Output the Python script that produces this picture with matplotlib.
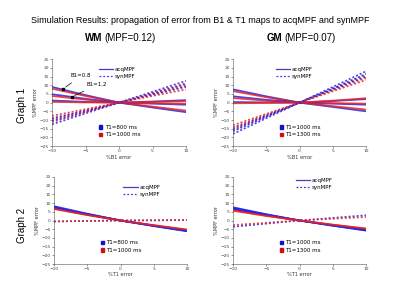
import numpy as np
import matplotlib
matplotlib.use("Agg")
import matplotlib.pyplot as plt
from matplotlib.lines import Line2D
from matplotlib.patches import Patch

x_pts = [-10, -5, 0, 5, 10]

# Graph 1, WM: %B1 error -> %MPF error
wm1_acq_blue = [[9.0, 4.3, 0, -2.8, -5.5], [4.8, 2.2, 0, -0.6, -1.2], [1.2, 0.4, 0, 0.6, 1.4]]
wm1_acq_red = [[8.0, 3.8, 0, -2.3, -4.6], [3.8, 1.7, 0, -0.3, -0.6], [0.4, 0.1, 0, 0.4, 0.9]]
wm1_syn_blue = [[-12.5, -6.2, 0, 6.2, 12.5], [-10.5, -5.2, 0, 5.2, 10.5], [-9.0, -4.5, 0, 4.5, 9.0]]
wm1_syn_red = [[-11.2, -5.6, 0, 5.6, 11.2], [-9.6, -4.8, 0, 4.8, 9.6], [-7.6, -3.8, 0, 3.8, 7.6]]

# Graph 1, GM
gm1_acq_blue = [[7.6, 3.6, 0, -2.5, -5.0], [3.6, 1.6, 0, -0.6, -1.2], [0.3, 0.1, 0, 0.9, 2.0]]
gm1_acq_red = [[6.6, 3.1, 0, -2.0, -4.0], [2.6, 1.1, 0, -0.3, -0.6], [-0.4, -0.2, 0, 1.1, 2.5]]
gm1_syn_blue = [[-18.0, -9.0, 0, 9.0, 18.0], [-16.5, -8.2, 0, 8.2, 16.5], [-15.0, -7.5, 0, 7.5, 15.0]]
gm1_syn_red = [[-15.8, -7.9, 0, 7.9, 15.8], [-14.2, -7.1, 0, 7.1, 14.2], [-13.0, -6.5, 0, 6.5, 13.0]]

# Graph 2, WM: %T1 error -> %MPF error
wm2_acq_blue = [[8.2, 3.9, 0, -3.2, -6.2], [7.8, 3.7, 0, -3.1, -6.0], [7.4, 3.5, 0, -3.0, -5.8]]
wm2_acq_red = [[7.2, 3.4, 0, -2.9, -5.6], [6.9, 3.3, 0, -2.8, -5.4], [6.6, 3.1, 0, -2.7, -5.2]]
wm2_syn_blue = [[-0.6, -0.3, 0, 0.1, 0.2]]
wm2_syn_red = [[-0.5, -0.2, 0, 0.1, 0.2]]

# Graph 2, GM
gm2_acq_blue = [[7.6, 3.6, 0, -3.0, -5.8], [7.2, 3.4, 0, -2.9, -5.6], [6.8, 3.2, 0, -2.8, -5.4]]
gm2_acq_red = [[6.4, 3.0, 0, -2.6, -5.0], [6.0, 2.8, 0, -2.5, -4.8], [5.6, 2.6, 0, -2.4, -4.6]]
gm2_syn_blue = [[-3.6, -1.8, 0, 1.5, 3.0]]
gm2_syn_red = [[-2.6, -1.3, 0, 1.0, 2.0]]

BLUE = "#2424e8"
RED = "#e82424"
FS_TICK = 3.2
FS_LAB = 3.6
FS_LEG = 4.0


def draw(ax, acq_b, acq_r, syn_b, syn_r, xlabel):
    for yb, yr in zip(acq_b, acq_r):
        ax.plot(x_pts, yb, color=BLUE, lw=1.3, alpha=0.85)
        ax.plot(x_pts, yr, color=RED, lw=1.3, alpha=0.85)
    for yb, yr in zip(syn_b, syn_r):
        ax.plot(x_pts, yb, color=BLUE, lw=1.2, ls=(0, (1.2, 1.2)), alpha=0.85)
        ax.plot(x_pts, yr, color=RED, lw=1.2, ls=(0, (1.2, 1.2)), alpha=0.85)
    ax.set_xlim(-10, 10)
    ax.set_ylim(-25, 25)
    ax.set_xticks([-10, -5, 0, 5, 10])
    ax.set_yticks(np.arange(-25, 26, 5))
    ax.tick_params(labelsize=FS_TICK, length=1.2, width=0.4, pad=1, colors="#444444")
    for s in ["top", "right"]:
        ax.spines[s].set_visible(False)
    for s in ["left", "bottom"]:
        ax.spines[s].set_linewidth(0.4)
        ax.spines[s].set_color("#555555")
    ax.set_xlabel(xlabel, fontsize=FS_LAB, labelpad=1, color="#333333")
    ax.set_ylabel("%MPF error", fontsize=FS_LAB, labelpad=1, color="#333333")


def legends(ax, t1_labels, loc1, loc2):
    h1 = [Line2D([], [], color="#4a3ad0", lw=0.9),
          Line2D([], [], color="#4a3ad0", lw=0.9, ls=(0, (1.5, 1.5)))]
    l1 = ax.legend(h1, ["acqMPF", "synMPF"], fontsize=FS_LEG, frameon=False,
                   loc="center left", bbox_to_anchor=loc1, handlelength=2.6,
                   handletextpad=0.3, labelspacing=0.4, borderpad=0)
    ax.add_artist(l1)
    h2 = [Patch(color="#1010d0"), Patch(color="#d01010")]
    ax.legend(h2, t1_labels, fontsize=FS_LEG, frameon=False,
              loc="center left", bbox_to_anchor=loc2, handlelength=0.6,
              handleheight=0.6, handletextpad=0.4, labelspacing=0.4, borderpad=0)


fig = plt.figure(figsize=(4, 3), dpi=100)
ax1 = fig.add_axes([0.13, 0.513, 0.335, 0.29])
ax2 = fig.add_axes([0.5825, 0.513, 0.3325, 0.29])
ax3 = fig.add_axes([0.135, 0.12, 0.3325, 0.29])
ax4 = fig.add_axes([0.5825, 0.12, 0.3325, 0.29])

draw(ax1, wm1_acq_blue, wm1_acq_red, wm1_syn_blue, wm1_syn_red, "%B1 error")
draw(ax2, gm1_acq_blue, gm1_acq_red, gm1_syn_blue, gm1_syn_red, "%B1 error")
draw(ax3, wm2_acq_blue, wm2_acq_red, wm2_syn_blue, wm2_syn_red, "%T1 error")
draw(ax4, gm2_acq_blue, gm2_acq_red, gm2_syn_blue, gm2_syn_red, "%T1 error")

legends(ax1, ["T1=800 ms", "T1=1000 ms"], (0.33, 0.84), (0.33, 0.17))
legends(ax2, ["T1=1000 ms", "T1=1300 ms"], (0.30, 0.84), (0.33, 0.17))
legends(ax3, ["T1=800 ms", "T1=1000 ms"], (0.50, 0.84), (0.33, 0.2))
legends(ax4, ["T1=1000 ms", "T1=1300 ms"], (0.45, 0.92), (0.33, 0.2))

ax1.annotate("B1=0.8", xy=(-8.3, 8.0), xytext=(-7.2, 14.5), fontsize=FS_LEG,
             arrowprops=dict(arrowstyle="-", lw=0.5, color="k"))
ax1.plot([-8.3], [8.0], "ks", ms=1.5)
ax1.annotate("B1=1.2", xy=(-7.0, 3.3), xytext=(-4.8, 9.5), fontsize=FS_LEG,
             arrowprops=dict(arrowstyle="-", lw=0.5, color="k"))
ax1.plot([-7.0], [3.3], "ks", ms=1.5)

fig.text(0.5, 0.933, "Simulation Results: propagation of error from B1 & T1 maps to acqMPF and synMPF",
         ha="center", va="center", fontsize=6.5, family="Liberation Sans")
fig.text(0.255, 0.872, "WM", ha="right", va="center", fontsize=7, weight="bold", family="Liberation Sans")
fig.text(0.26, 0.872, "(MPF=0.12)", ha="left", va="center", fontsize=7, family="Liberation Sans")
fig.text(0.705, 0.872, "GM", ha="right", va="center", fontsize=7, weight="bold", family="Liberation Sans")
fig.text(0.71, 0.872, "(MPF=0.07)", ha="left", va="center", fontsize=7, family="Liberation Sans")
fig.text(0.055, 0.65, "Graph 1", rotation=90, ha="center", va="center", fontsize=7, family="Liberation Sans")
fig.text(0.055, 0.25, "Graph 2", rotation=90, ha="center", va="center", fontsize=7, family="Liberation Sans")

fig.savefig("out.png", dpi=100)
